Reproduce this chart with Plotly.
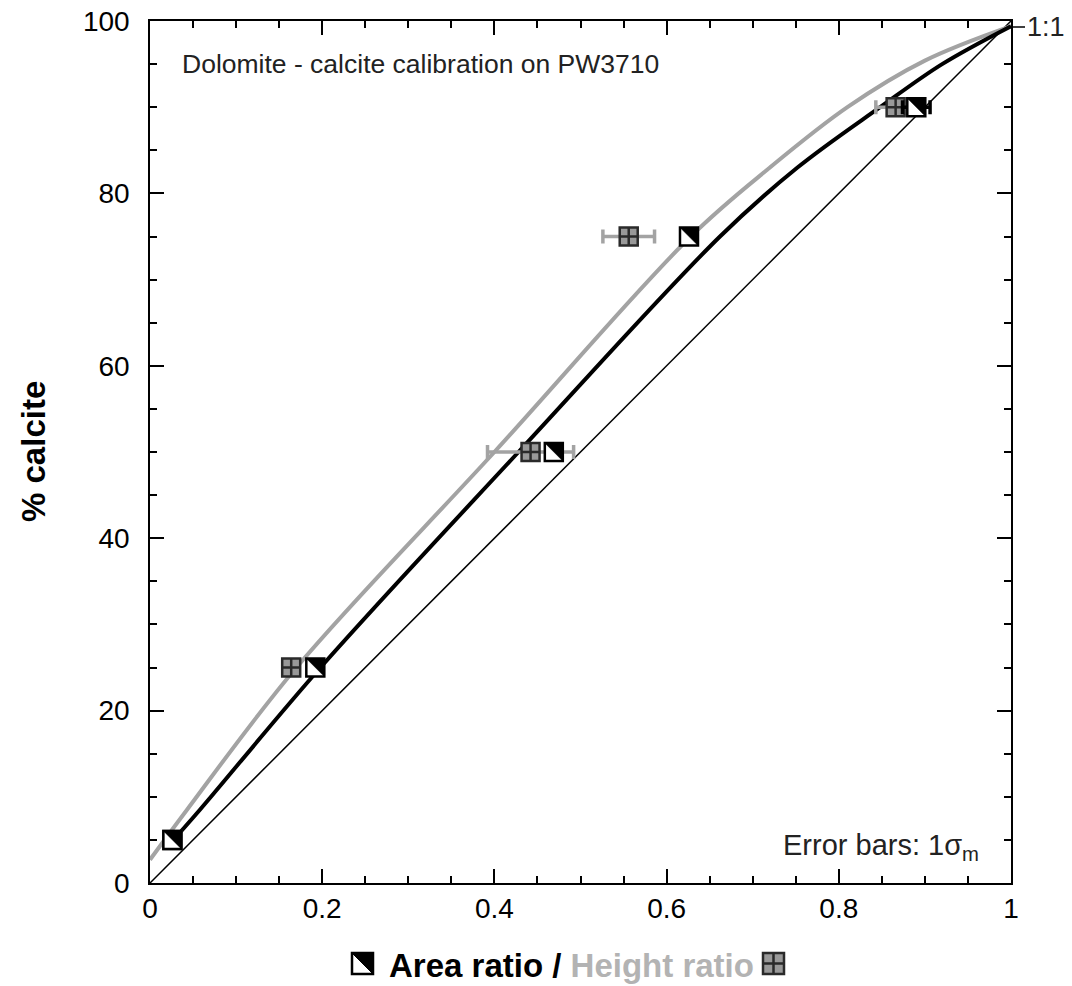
import plotly.graph_objects as go

# % calcite of the standards
pct = [5, 25, 50, 75, 90]

# area ratio (black/white squares) and 1 sigma_m
area = [0.026, 0.192, 0.469, 0.626, 0.890]
area_err = [0.0, 0.004, 0.008, 0.004, 0.016]

# height ratio (grey squares) and 1 sigma_m
height = [0.026, 0.164, 0.442, 0.556, 0.866]
height_err = [0.0, 0.004, 0.05, 0.03, 0.023]

# calibration curves
area_curve_x = [0.02, 0.058, 0.198, 0.428, 0.662, 0.752, 0.848, 0.92, 1.0]
area_curve_y = [4.2, 8.5, 25, 50, 75, 83, 90, 95.0, 99.4]
height_curve_x = [0.0, 0.043, 0.17, 0.40, 0.628, 0.72, 0.81, 0.90, 1.0]
height_curve_y = [2.7, 8.5, 25, 50, 75, 83, 90, 95.4, 99.4]

one_to_one_x = [0, 1]
one_to_one_y = [0, 100]

FONT = "Liberation Sans, Arial, sans-serif"
GREY = "#a3a3a3"
W, H = 1072, 986
L, R, T, B = 142, 69, 13, 111
pw, ph = W - L - R, H - T - B
OFF = 8  # page body margin


def px_x(p):
    # screen pixel -> paper x
    return (p - OFF - L) / pw


def px_y(p):
    # screen pixel -> paper y
    return (T + ph - (p - OFF)) / ph


fig = go.Figure()

fig.add_trace(go.Scatter(x=one_to_one_x, y=one_to_one_y, mode="lines",
                         line=dict(color="black", width=1.5)))
fig.add_trace(go.Scatter(x=height_curve_x, y=height_curve_y, mode="lines",
                         line=dict(color=GREY, width=4, shape="spline", smoothing=1.0)))
fig.add_trace(go.Scatter(x=area_curve_x, y=area_curve_y, mode="lines",
                         line=dict(color="black", width=4, shape="spline", smoothing=1.0)))

# height ratio markers
fig.add_trace(go.Scatter(
    x=height, y=pct, mode="markers", cliponaxis=False,
    error_x=dict(type="data", array=height_err, color=GREY, thickness=3.5, width=7),
    marker=dict(symbol="square-cross", size=18, color="#999999",
                line=dict(color="#2a2a2a", width=2.5))))

# area ratio markers: white square ...
fig.add_trace(go.Scatter(
    x=area, y=pct, mode="markers", cliponaxis=False,
    error_x=dict(type="data", array=area_err, color="black", thickness=3.5, width=7),
    marker=dict(symbol="square", size=18, color="white",
                line=dict(color="black", width=2.5))))

# ... with its upper-right half filled black (9 px half side)
hx, hy = 9 / pw, 9 * 100 / ph
tri_x, tri_y = [], []
for a, p in zip(area, pct):
    tri_x += [a - hx, a + hx, a + hx, a - hx, None]
    tri_y += [p + hy, p + hy, p - hy, p + hy, None]
fig.add_trace(go.Scatter(x=tri_x, y=tri_y, mode="lines", fill="toself",
                         fillcolor="black", line=dict(color="black", width=0.5)))

axis_common = dict(showline=True, linecolor="black", linewidth=1.5, mirror="ticks",
                   ticks="inside", ticklen=14, tickwidth=1.5, tickcolor="black",
                   showgrid=False, zeroline=False, automargin=False,
                   ticklabeloverflow="allow",
                   tickfont=dict(family=FONT, size=28, color="black"))

fig.update_xaxes(range=[0, 1], tickvals=[0, 0.2, 0.4, 0.6, 0.8, 1],
                 ticktext=["0", "0.2", "0.4", "0.6", "0.8", "1"],
                 minor=dict(dtick=0.05, ticks="inside", ticklen=7, tickwidth=1.5, tickcolor="black"),
                 **axis_common)
fig.update_yaxes(range=[0, 100], tickvals=[0, 20, 40, 60, 80, 100],
                 minor=dict(dtick=5, ticks="inside", ticklen=7, tickwidth=1.5, tickcolor="black"),
                 ticklabelstandoff=13,
                 **axis_common)

fig.add_annotation(x=px_x(33), y=px_y(452), xref="paper", yref="paper", textangle=-90,
                   xanchor="center", yanchor="middle",
                   text="<b>% calcite</b>", showarrow=False,
                   font=dict(family=FONT, size=33, color="black"))

fig.add_annotation(x=0.035, y=97, xref="x", yref="y", xanchor="left", yanchor="top",
                   text="Dolomite - calcite calibration on PW3710", showarrow=False,
                   font=dict(family=FONT, size=26.5, color="#222222"))
fig.add_annotation(x=0.965, y=1.8, xref="x", yref="y", xanchor="right", yanchor="bottom",
                   text="Error bars: 1σ<sub>m</sub>", showarrow=False,
                   font=dict(family=FONT, size=29, color="#222222"))
fig.add_annotation(x=1, y=99.3, xref="x", yref="y", ax=14, ay=0, xanchor="left",
                   text="1:1", showarrow=True, arrowhead=0, arrowwidth=1.5, arrowcolor="black",
                   font=dict(family=FONT, size=27, color="#222222"))

# x axis title with its two marker icons
fig.add_annotation(x=px_x(571), y=px_y(965), xref="paper", yref="paper",
                   xanchor="center", yanchor="middle",
                   text="<b>Area ratio / <span style='color:#b3b3b3'>Height ratio</span></b>",
                   showarrow=False, font=dict(family=FONT, size=33, color="black"))

fig.add_shape(type="rect", xref="paper", yref="paper",
              x0=px_x(352), x1=px_x(373), y0=px_y(974), y1=px_y(953),
              line=dict(color="black", width=2.5), fillcolor="white")
fig.add_shape(type="path", xref="paper", yref="paper",
              path=f"M {px_x(352)} {px_y(953)} L {px_x(373)} {px_y(953)} L {px_x(373)} {px_y(974)} Z",
              line=dict(color="black", width=1), fillcolor="black")
fig.add_shape(type="rect", xref="paper", yref="paper",
              x0=px_x(763), x1=px_x(784), y0=px_y(974), y1=px_y(953),
              line=dict(color="#2a2a2a", width=2.5), fillcolor="#999999")
fig.add_shape(type="line", xref="paper", yref="paper",
              x0=px_x(773.5), x1=px_x(773.5), y0=px_y(974), y1=px_y(953),
              line=dict(color="#2a2a2a", width=2.5))
fig.add_shape(type="line", xref="paper", yref="paper",
              x0=px_x(763), x1=px_x(784), y0=px_y(963.5), y1=px_y(963.5),
              line=dict(color="#2a2a2a", width=2.5))

fig.update_layout(width=W, height=H, margin=dict(l=L, r=R, t=T, b=B, autoexpand=False),
                  plot_bgcolor="white", paper_bgcolor="white", showlegend=False)

fig.write_html("out.html")
